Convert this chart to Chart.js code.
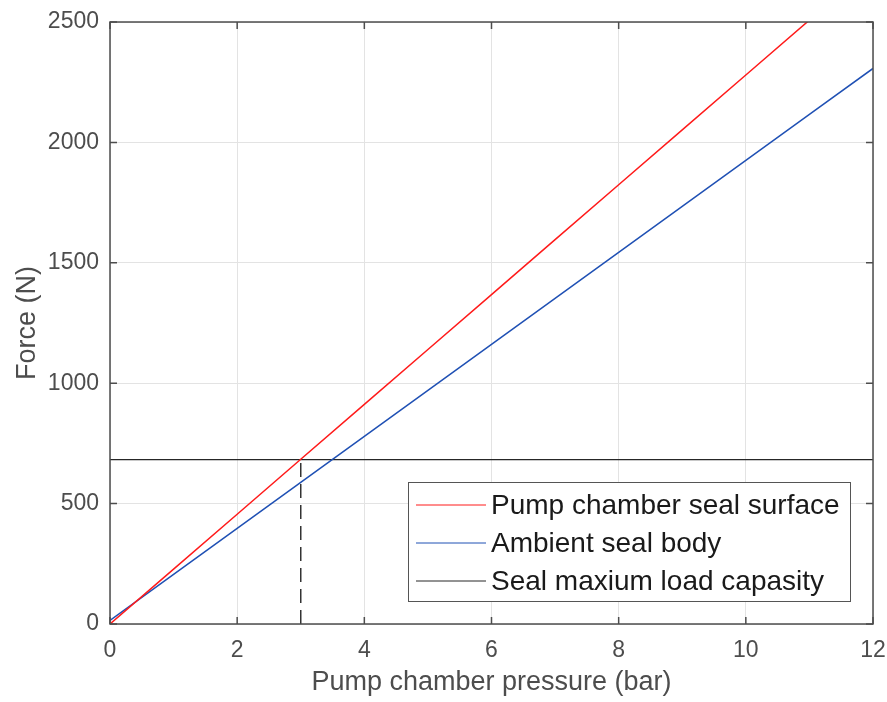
<!DOCTYPE html>
<html>
<head>
<meta charset="utf-8">
<script src="https://cdn.jsdelivr.net/npm/chart.js@4"></script>
<style>
  html, body { margin: 0; padding: 0; background: #fff; }
  #wrap { width: 887px; height: 702px; }
</style>
</head>
<body>
<div id="wrap"><canvas id="chart" width="887" height="702"></canvas></div>
<script>
// pressure (bar)
const pressure = [0, 1, 2, 3, 4, 5, 6, 7, 8, 9, 10, 11, 12];
// force on pump chamber seal surface (N)
const sealSurface = [0, 228, 456, 684, 912, 1140, 1368, 1596, 1824, 2052, 2280, 2508, 2736];
// force on ambient seal body (N)
const sealBody = [15, 206, 397, 588, 779, 970, 1161, 1352, 1543, 1734, 1925, 2116, 2307];
// maximum load the seal can take (N)
const maxLoad = 683;
const maxLoadPressure = 3;

const xTicks = [0, 2, 4, 6, 8, 10, 12];
const yTicks = [0, 500, 1000, 1500, 2000, 2500];

const seriesNames = ['Pump chamber seal surface', 'Ambient seal body', 'Seal maxium load capasity'];
const seriesColors = ['#ff1a1a', '#1f50b4', '#262626'];

const axisColor = '#4d4d4d';
const fontFamily = '"Liberation Sans", Arial, sans-serif';

// matlab style box + inward ticks
const boxPlugin = {
  id: 'box',
  afterDraw(chart) {
    const { ctx, chartArea: a, scales } = chart;
    ctx.save();
    ctx.strokeStyle = axisColor;
    ctx.lineWidth = 1.5;
    ctx.strokeRect(a.left, a.top, a.right - a.left, a.bottom - a.top);
    ctx.beginPath();
    xTicks.forEach(v => {
      const x = scales.x.getPixelForValue(v);
      ctx.moveTo(x, a.bottom); ctx.lineTo(x, a.bottom - 7);
      ctx.moveTo(x, a.top); ctx.lineTo(x, a.top + 7);
    });
    yTicks.forEach(v => {
      const y = scales.y.getPixelForValue(v);
      ctx.moveTo(a.left, y); ctx.lineTo(a.left + 7, y);
      ctx.moveTo(a.right, y); ctx.lineTo(a.right - 7, y);
    });
    ctx.stroke();
    ctx.restore();
  }
};

// legend box inside the plot, lower right
const legendPlugin = {
  id: 'insideLegend',
  afterDraw(chart) {
    const { ctx, chartArea: a } = chart;
    const w = 442, h = 119;
    const x0 = a.right - 23 - w, y0 = a.bottom - 23 - h;
    ctx.save();
    ctx.fillStyle = '#fff';
    ctx.fillRect(x0, y0, w, h);
    ctx.strokeStyle = '#555';
    ctx.lineWidth = 1;
    ctx.strokeRect(x0 + 0.5, y0 + 0.5, w, h);
    ctx.font = '28px ' + fontFamily;
    ctx.textBaseline = 'middle';
    seriesNames.forEach((name, i) => {
      const y = y0 + 23 + i * 38;
      ctx.strokeStyle = seriesColors[i];
      ctx.beginPath();
      ctx.moveTo(x0 + 8, y); ctx.lineTo(x0 + 78, y);
      ctx.stroke();
      ctx.fillStyle = '#1a1a1a';
      ctx.fillText(name, x0 + 83, y + 1);
    });
    ctx.restore();
  }
};

const toPoints = (xs, ys) => xs.map((x, i) => ({ x: x, y: ys[i] }));

new Chart(document.getElementById('chart'), {
  type: 'line',
  data: {
    datasets: [
      {
        label: seriesNames[0],
        data: toPoints(pressure, sealSurface),
        borderColor: seriesColors[0],
        borderWidth: 1.5,
        pointRadius: 0
      },
      {
        label: seriesNames[1],
        data: toPoints(pressure, sealBody),
        borderColor: seriesColors[1],
        borderWidth: 1.5,
        pointRadius: 0
      },
      {
        label: seriesNames[2],
        data: [{ x: pressure[0], y: maxLoad }, { x: pressure[pressure.length - 1], y: maxLoad }],
        borderColor: seriesColors[2],
        borderWidth: 1.2,
        pointRadius: 0
      },
      {
        label: 'limit',
        data: [{ x: maxLoadPressure, y: 0 }, { x: maxLoadPressure, y: maxLoad }],
        borderColor: '#333',
        borderWidth: 1.5,
        borderDash: [14, 7],
        pointRadius: 0
      }
    ]
  },
  options: {
    responsive: false,
    animation: false,
    clip: true,
    layout: { padding: { top: 22, right: 14, left: 0, bottom: 0 } },
    plugins: {
      legend: { display: false },
      tooltip: { enabled: false }
    },
    scales: {
      x: {
        type: 'linear',
        min: 0,
        max: 12,
        afterFit: s => { s.height = 78; s.paddingLeft = 0; s.paddingRight = 0; },
        afterBuildTicks: s => { s.ticks = xTicks.map(v => ({ value: v })); },
        grid: { color: '#e3e3e3', drawTicks: false },
        border: { display: false },
        ticks: {
          color: axisColor,
          padding: 13,
          font: { size: 23, family: fontFamily },
          callback: v => String(v)
        },
        title: {
          display: true,
          text: 'Pump chamber pressure (bar)',
          color: axisColor,
          padding: { top: 0, bottom: 3 },
          font: { size: 27, family: fontFamily }
        }
      },
      y: {
        type: 'linear',
        min: 0,
        max: 2500,
        afterFit: s => { s.width = 110; s.paddingTop = 0; s.paddingBottom = 0; },
        afterBuildTicks: s => { s.ticks = yTicks.map(v => ({ value: v })); },
        grid: { color: '#e3e3e3', drawTicks: false },
        border: { display: false },
        ticks: {
          color: axisColor,
          padding: 11,
          font: { size: 23, family: fontFamily },
          callback: v => String(v)
        },
        title: {
          display: true,
          text: 'Force (N)',
          color: axisColor,
          padding: { top: 11, bottom: 0 },
          font: { size: 27, family: fontFamily }
        }
      }
    }
  },
  plugins: [boxPlugin, legendPlugin]
});
</script>
</body>
</html>
